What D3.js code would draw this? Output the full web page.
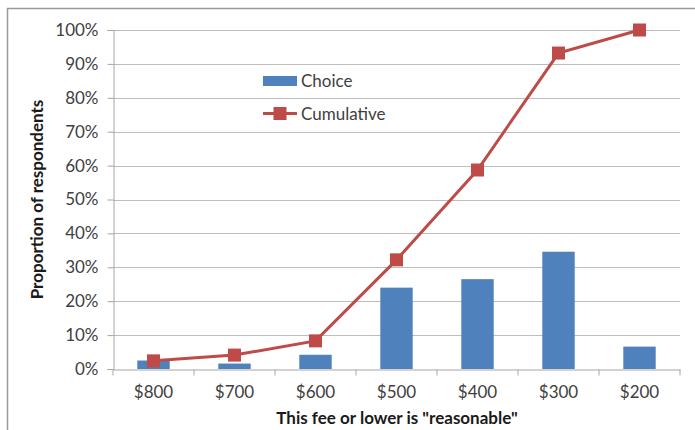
<!DOCTYPE html>
<html>
<head>
<meta charset="utf-8">
<script src="https://cdn.jsdelivr.net/npm/d3@7"></script>
<style>
  html, body { margin: 0; padding: 0; background: #fff; }
  svg { display: block; font-family: Lato, "Open Sans", sans-serif; }
</style>
</head>
<body>
<div id="chart"></div>
<script>
const categories = ["$800", "$700", "$600", "$500", "$400", "$300", "$200"];
const choice = [0.025, 0.016, 0.042, 0.240, 0.265, 0.346, 0.066];
const cumulative = [0.024, 0.041, 0.083, 0.322, 0.587, 0.932, 1.0];
const yTicks = [0, 0.1, 0.2, 0.3, 0.4, 0.5, 0.6, 0.7, 0.8, 0.9, 1.0];
const seriesNames = ["Choice", "Cumulative"];

const W = 695, H = 430;
const m = { left: 113, right: 15, top: 30, bottom: 61 };
const blue = "#4f81bd", red = "#be4b48", grid = "#bdbdbd", axisCol = "#a6a6a6";
const fs = 17;

const svg = d3.select("#chart").append("svg").attr("width", W).attr("height", H);

// outer border
svg.append("rect").attr("x", 7.5).attr("y", 8.5).attr("width", W + 10).attr("height", H + 10)
  .attr("fill", "none").attr("stroke", "#999").attr("stroke-width", 1.5);

const x = d3.scaleBand().domain(categories).range([m.left, W - m.right]);
const y = d3.scaleLinear().domain([0, 1]).range([H - m.bottom, m.top]);

// gridlines
svg.append("g").selectAll("line").data(yTicks.filter(d => d > 0)).join("line")
  .attr("x1", m.left).attr("x2", W - m.right)
  .attr("y1", d => Math.round(y(d)) + 0.5).attr("y2", d => Math.round(y(d)) + 0.5)
  .attr("stroke", grid).attr("stroke-width", 1.2);

// y axis
const yAxis = d3.axisLeft(y).tickValues(yTicks).tickFormat(d3.format(".0%")).tickSize(6).tickPadding(9);
const gy = svg.append("g").attr("transform", `translate(${m.left + 0.5},0)`).call(yAxis);
gy.selectAll("path, line").attr("stroke", axisCol);
gy.selectAll("text").attr("font-size", fs).attr("fill", "#404040").attr("font-family", "Lato, sans-serif");

// x axis
const gx = svg.append("g").attr("transform", `translate(0,${Math.round(y(0)) + 0.5})`)
  .call(d3.axisBottom(x).tickSize(0).tickPadding(16));
gx.select(".domain").attr("stroke", axisCol);
gx.selectAll("text").attr("font-size", fs).attr("fill", "#404040").attr("font-family", "Lato, sans-serif");
// tick marks between categories
const bounds = categories.map(c => x(c)).concat([x(categories[categories.length - 1]) + x.bandwidth()]);
gx.selectAll(".sep").data(bounds).join("line").attr("class", "sep")
  .attr("x1", d => d).attr("x2", d => d).attr("y1", 0).attr("y2", 6)
  .attr("stroke", axisCol);

// bars
const barW = x.bandwidth() * 0.4;
svg.append("g").selectAll("rect").data(choice).join("rect")
  .attr("x", (d, i) => x(categories[i]) + (x.bandwidth() - barW) / 2)
  .attr("width", barW)
  .attr("y", d => y(d)).attr("height", d => y(0) - y(d))
  .attr("fill", blue);

// line
const cx = (d, i) => x(categories[i]) + x.bandwidth() / 2;
svg.append("path").datum(cumulative)
  .attr("d", d3.line().x(cx).y(d => y(d)))
  .attr("fill", "none").attr("stroke", red).attr("stroke-width", 3);
const ms = 13;
svg.append("g").selectAll("rect").data(cumulative).join("rect")
  .attr("x", (d, i) => cx(d, i) - ms / 2).attr("y", d => y(d) - ms / 2)
  .attr("width", ms).attr("height", ms).attr("fill", red);

// legend
const lg = svg.append("g");
lg.append("rect").attr("x", 263).attr("y", 76).attr("width", 34).attr("height", 10).attr("fill", blue);
lg.append("text").attr("x", 301).attr("y", 81).attr("dy", "0.35em").attr("font-size", fs).attr("fill", "#404040").text(seriesNames[0]);
lg.append("line").attr("x1", 263).attr("x2", 297).attr("y1", 113.5).attr("y2", 113.5).attr("stroke", red).attr("stroke-width", 3);
lg.append("rect").attr("x", 280 - ms / 2).attr("y", 113.5 - ms / 2).attr("width", ms).attr("height", ms).attr("fill", red);
lg.append("text").attr("x", 301).attr("y", 114).attr("dy", "0.35em").attr("font-size", fs).attr("fill", "#404040").text(seriesNames[1]);

// axis titles
svg.append("text").attr("transform", `translate(43,${(y(0) + y(1)) / 2}) rotate(-90)`)
  .attr("text-anchor", "middle").attr("font-size", fs).attr("font-weight", "bold").attr("fill", "#1a1a1a")
  .text("Proportion of respondents");
svg.append("text").attr("x", 397).attr("y", 424)
  .attr("text-anchor", "middle").attr("font-size", fs).attr("font-weight", "bold").attr("fill", "#1a1a1a")
  .text('This fee or lower is "reasonable"');
</script>
</body>
</html>
